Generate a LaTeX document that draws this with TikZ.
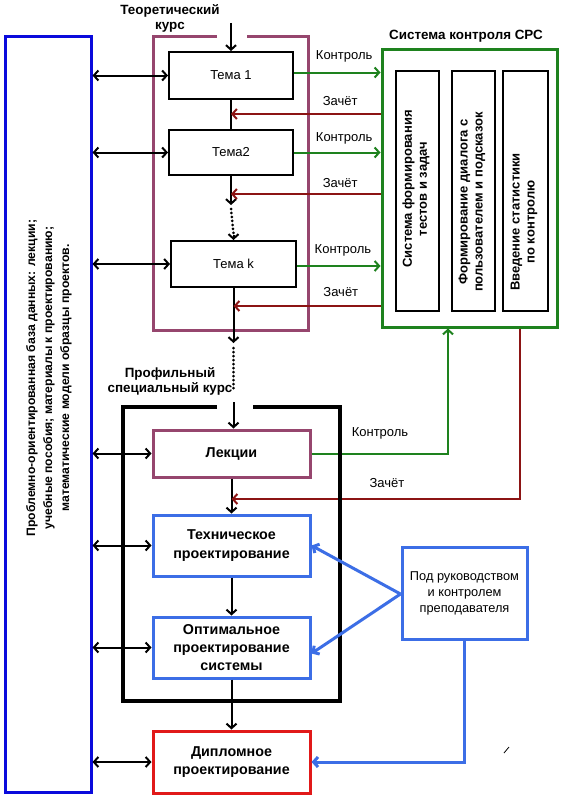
\documentclass[tikz,border=0pt]{standalone}
\usepackage{fontspec}
\setmainfont{Liberation Sans}
\usetikzlibrary{arrows.meta}
\definecolor{dbblue}{RGB}{10,10,220}
\definecolor{theo}{RGB}{150,70,110}
\definecolor{ctrlgreen}{RGB}{30,130,30}
\definecolor{zred}{RGB}{140,20,20}
\definecolor{pblue}{RGB}{60,110,230}
\definecolor{dred}{RGB}{225,25,25}
\tikzset{
  tip/.tip={Straight Barb[length=4.5pt,width=10pt]},
  nfont/.style={font=\fontsize{13}{16}\selectfont},
  tfont/.style={font=\bfseries\fontsize{13.4}{15}\selectfont},
  temabox/.style={draw=black, line width=2pt, inner sep=0pt, nfont},
  procbox/.style={line width=3pt, inner sep=0pt, align=center, font=\bfseries\fontsize{14.3}{18.3}\selectfont},
  innerbox/.style={draw=black, line width=2pt, inner sep=0pt},
  vtext/.style={rotate=90, align=center, font=\bfseries\fontsize{13}{15}\selectfont},
  arr/.style={-tip, line width=2pt},
  darr/.style={tip-tip, line width=2pt},
  dots/.style={line width=3pt, line cap=round, dash pattern=on 0pt off 4pt},
  lbl/.style={nfont, inner sep=0pt},
}
\begin{document}
\begin{tikzpicture}[x=1pt,y=-1pt]
\fill[white] (0,0) rectangle (560,800);
\useasboundingbox (0,0) rectangle (560,800);

% frames
\draw[theo, line width=3pt] (217,37) -- (153,37) -- (153,330) -- (308,330) -- (308,37) -- (247,37);

% database box
\node[draw=dbblue, line width=3pt, minimum width=86pt, minimum height=755pt, inner sep=0pt] (db) at (48,414.5) {};
\node[rotate=90, align=center, font=\bfseries\fontsize{12.2}{17}\selectfont] (dbtext) at (49,378)
 {Проблемно-ориентированная база данных: лекции;\\учебные пособия; материалы к проектированию;\\математические модели образцы проектов.};

% titles
\node[align=center, tfont] (theotitle) at (170,18.5) {Теоретический\\курс};
\node[tfont] (ctrltitle) at (466,36) {Система контроля СРС};
\node[align=center, tfont] (proftitle) at (170,381) {Профильный\\специальный курс};

% theory topics
\node[temabox, minimum width=124pt, minimum height=47pt] (t1) at (231,75.5) {Тема 1};
\node[temabox, minimum width=124pt, minimum height=45pt] (t2) at (231,152.5) {Тема2};
\node[temabox, minimum width=125pt, minimum height=46pt] (tk) at (233.5,264) {Тема k};

% control system
\node[draw=ctrlgreen, line width=3pt, minimum width=175pt, minimum height=277pt, inner sep=0pt] (ctrl) at (469.5,188.5) {};
\node[innerbox, minimum width=43pt, minimum height=240pt] (i1) at (417.5,191) {};
\node[innerbox, minimum width=43pt, minimum height=240pt] (i2) at (473.5,191) {};
\node[innerbox, minimum width=45pt, minimum height=240pt] (i3) at (525.5,191) {};
\node[vtext] (i1t) at (416,189) {Система формирования\\тестов и задач};
\node[vtext] (i2t) at (472,202) {Формирование диалога с\\пользователем и подсказок};
\node[vtext] (i3t) at (524,222) {Введение статистики\\по контролю};

% profile course boxes
\node[procbox, draw=theo, minimum width=157pt, minimum height=47pt] (lec) at (231.5,453.5) {Лекции};
\node[procbox, draw=pblue, minimum width=157pt, minimum height=61pt] (tech) at (231.5,545.5) {Техническое\\проектирование};
\node[procbox, draw=pblue, minimum width=157pt, minimum height=61pt] (opt) at (231.5,647.5) {Оптимальное\\проектирование\\системы};
\node[procbox, draw=dred, minimum width=157pt, minimum height=62pt] (dip) at (231.5,762) {Дипломное\\проектирование};
\node[draw=pblue, line width=3pt, minimum width=125pt, minimum height=92pt, inner sep=0pt, align=center, font=\fontsize{12.8}{16}\selectfont] (guide) at (464.5,593) {Под руководством\\и контролем\\преподавателя};

% coordinates
\coordinate (top) at (231,23);
\coordinate (t2end) at (231,205);
\coordinate (t2dot) at (231,209);
\coordinate (tkend) at (233.5,343);
\coordinate (tkdot1) at (233.5,348);
\coordinate (tkdot2) at (233.5,390);
\coordinate (lecin) at (233.5,402);
\coordinate (z1) at (231,114);
\coordinate (z2) at (231,194);
\coordinate (z3) at (233.5,306);
\coordinate (z4) at (231.5,499);
\coordinate (kturn) at (448,453.5);
\coordinate (zturn) at (520,499);

% main vertical flow
\draw[arr] (top) -- (t1.north);
\draw[line width=2pt] (t1.south) -- (t2.north);
\draw[arr] (t2.south) -- (t2end);
\draw[dots] (t2dot) -- ([yshift=6pt]tk.north);
\draw[arr] ([yshift=5pt]tk.north) -- (tk.north);
\draw[arr] (tk.south) -- (tkend);
\draw[dots] (tkdot1) -- (tkdot2);
\draw[arr] (lecin) -- (lecin |- lec.north);
\draw[arr] (lec.south) -- (tech.north);
\draw[arr] (tech.south) -- (opt.north);
\draw[arr] (opt.south) -- (dip.north);

% database links
\draw[darr] (db.east |- t1.west) -- (t1.west);
\draw[darr] (db.east |- t2.west) -- (t2.west);
\draw[darr] (db.east |- tk.west) -- (tk.west);
\draw[darr] (db.east |- lec.west) -- (lec.west);
\draw[darr] (db.east |- tech.west) -- (tech.west);
\draw[darr] (db.east |- opt.west) -- (opt.west);
\draw[darr] (db.east |- dip.west) -- (dip.west);

% control / credit
\draw[arr, ctrlgreen] ([yshift=3pt]t1.east) -- ([yshift=3pt]t1.east -| ctrl.west) node[lbl, black, pos=0.58, above=9pt] {Контроль};
\draw[arr, zred] (ctrl.west |- z1) -- (z1) node[lbl, black, pos=0.27, above=7pt] {Зачёт};
\draw[arr, ctrlgreen] (t2.east) -- (t2.east -| ctrl.west) node[lbl, black, pos=0.58, above=7pt] {Контроль};
\draw[arr, zred] (ctrl.west |- z2) -- (z2) node[lbl, black, pos=0.27, above=5pt] {Зачёт};
\draw[arr, ctrlgreen] ([yshift=-2pt]tk.east) -- ([yshift=-2pt]tk.east -| ctrl.west) node[lbl, black, pos=0.55, above=9pt] {Контроль};
\draw[arr, zred] (ctrl.west |- z3) -- (z3) node[lbl, black, pos=0.27, above=8pt] {Зачёт};
\draw[arr, ctrlgreen] (lec.east) -- (kturn) -- (kturn |- ctrl.south);
\node[lbl] (klab) at (380,433) {Контроль};
\draw[arr, zred] (zturn |- ctrl.south) -- (zturn) -- (z4);
\node[lbl] (zlab) at (387,483) {Зачёт};

% profile frame
\draw[black, line width=3.5pt] (217,407) -- (123,407) -- (123,701) -- (340,701) -- (340,407) -- (253,407);

% guidance arrows
\draw[arr, pblue, line width=3pt] ([yshift=-1pt]guide.west) -- (tech.east);
\draw[arr, pblue, line width=3pt] ([yshift=-1pt]guide.west) -- ([yshift=-6pt]opt.east);
\draw[arr, pblue, line width=3pt] (guide.south) -- (guide.south |- dip.east) -- (dip.east);

% stray mark
\draw[line width=0.8pt] (504,753) -- (509,747);
\end{tikzpicture}
\end{document}
